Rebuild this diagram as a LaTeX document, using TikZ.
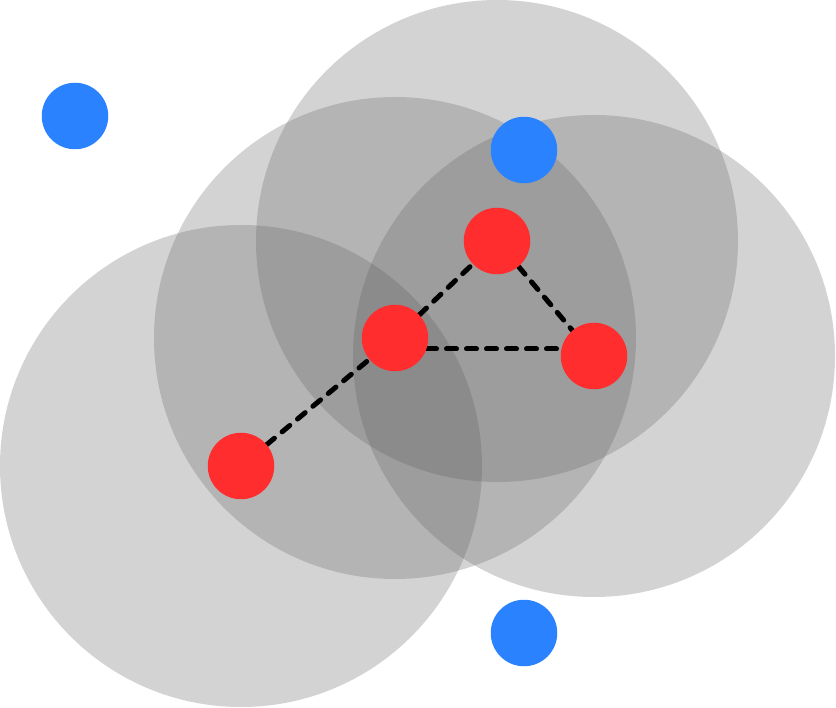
\documentclass[tikz,border=0pt]{standalone}
\definecolor{nred}{RGB}{255,45,45}
\definecolor{nblue}{RGB}{42,130,255}
\definecolor{zone}{RGB}{94,94,94}
\pgfdeclarelayer{bg}
\pgfdeclarelayer{mid}
\pgfsetlayers{bg,mid,main}
\begin{document}
\begin{tikzpicture}[x=1pt,y=-1pt,
  dot/.style={circle,inner sep=0pt,minimum size=66.5pt},
  rednode/.style={dot,fill=nred},
  bluenode/.style={dot,fill=nblue},
  zonefill/.style={fill=zone,fill opacity=0.27},
  link/.style={black,line width=5pt,dash pattern=on 10pt off 10pt,line cap=round}]
\useasboundingbox (0,0) rectangle (836,708);
% red nodes
\node[rednode] (r1) at (241,466) {};
\node[rednode] (r2) at (395,338) {};
\node[rednode] (r3) at (497,241) {};
\node[rednode] (r4) at (594,356) {};
% blue nodes
\node[bluenode] (b1) at (75,116) {};
\node[bluenode] (b2) at (524,150) {};
\node[bluenode] (b3) at (524,633) {};
% coverage circles
\begin{pgfonlayer}{bg}
\fill[zonefill] (r1) circle (241pt);
\fill[zonefill] (r2) circle (241pt);
\fill[zonefill] (r3) circle (241pt);
\fill[zonefill] (r4) circle (241pt);
\end{pgfonlayer}
% links
\begin{pgfonlayer}{mid}
\coordinate (hy) at (0,349);
\draw[link] (r1) -- (r2);
\draw[link] (r2) -- (r3);
\draw[link] (r3) -- (r4);
\draw[link,dash phase=8.5pt] (r2 |- hy) -- (r4 |- hy);
\end{pgfonlayer}
\end{tikzpicture}
\end{document}
